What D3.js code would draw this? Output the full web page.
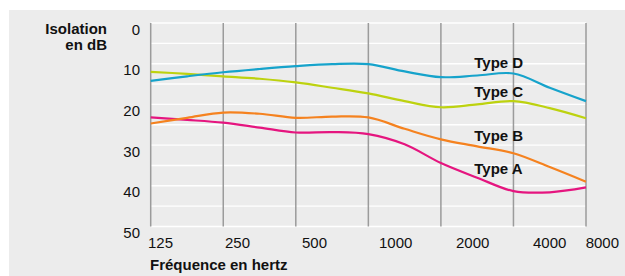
<!DOCTYPE html>
<html lang="fr">
<head>
<meta charset="UTF-8">
<title>Isolation en dB</title>
<script src="https://d3js.org/d3.v7.min.js"></script>
<style>
  body { margin: 0; background: #fff; }
  text { font-family: "Liberation Sans", Arial, Helvetica, sans-serif; fill: #111; }
</style>
</head>
<body>
<svg id="chart" width="625" height="276"></svg>
<script>
// Frequencies (Hz) where values were read: gridlines plus geometric midpoints
const freqs = [125, 177, 250, 354, 500, 707, 1000, 1414, 2000, 2828, 4000, 5657, 8000];

// Isolation in dB for each type
const typeA = [23.2, 23.8, 24.5, 25.7, 26.9, 26.8, 27.3, 29.8, 34.4, 38.0, 41.3, 41.6, 40.4];
const typeB = [24.7, 23.3, 22.0, 22.3, 23.3, 23.0, 23.2, 26.0, 28.6, 30.3, 32.0, 35.4, 39.0];
const typeC = [12.0, 12.5, 13.1, 13.7, 14.6, 15.9, 17.3, 19.2, 20.7, 20.0, 19.2, 20.9, 23.4];
const typeD = [14.2, 13.1, 12.1, 11.3, 10.6, 10.1, 10.1, 11.9, 13.3, 12.9, 12.4, 15.9, 19.2];

const seriesNames = ["Type A", "Type B", "Type C", "Type D"];
const seriesColors = ["#e5157f", "#f5821f", "#bdd20f", "#16a3cb"];

// Axis ticks
const yTicks = [0, 10, 20, 30, 40, 50];
const gridDb = [0, 5, 10, 15, 20, 25, 30, 35, 40, 45, 50];
const gridFreqs = [125, 250, 500, 1000, 2000, 4000, 8000];
const xTickLabels = ["125", "250", "500", "1000", "2000", "4000", "8000"];

const svg = d3.select("#chart");

// grey panel
svg.append("rect")
  .attr("x", 9).attr("y", 10)
  .attr("width", 616).attr("height", 266)
  .attr("fill", "#ececec");

const plot = { left: 150.7, right: 586, top: 23, bottom: 226.5 };

const x = d3.scaleLog().base(2)
  .domain([125, 8000])
  .range([plot.left, plot.right]);

const y = d3.scaleLinear()
  .domain([0, 50])
  .range([plot.top, plot.bottom]);

// horizontal white gridlines
svg.append("g")
  .selectAll("line")
  .data(gridDb)
  .enter()
  .append("line")
  .attr("x1", plot.left).attr("x2", plot.right)
  .attr("y1", d => y(d)).attr("y2", d => y(d))
  .attr("stroke", "#fff")
  .attr("stroke-width", 1.4);

// vertical grey gridlines
svg.append("g")
  .selectAll("line")
  .data(gridFreqs)
  .enter()
  .append("line")
  .attr("x1", d => x(d)).attr("x2", d => x(d))
  .attr("y1", plot.top).attr("y2", plot.bottom)
  .attr("stroke", "#9b9b9b")
  .attr("stroke-width", 1.5);

// y tick labels (sit just below their gridline)
svg.append("g")
  .selectAll("text")
  .data(yTicks)
  .enter()
  .append("text")
  .attr("x", 140)
  .attr("y", d => y(d) + 11.5)
  .attr("text-anchor", "end")
  .attr("font-size", "15px")
  .text(d => d);

// y axis title
const yTitle = svg.append("text")
  .attr("text-anchor", "end")
  .attr("font-size", "15px")
  .attr("font-weight", "bold");
yTitle.append("tspan").attr("x", 107).attr("y", 34.3).text("Isolation");
yTitle.append("tspan").attr("x", 107).attr("y", 50).text("en dB");

// x tick labels, spaced evenly from the left edge of the plot
const labelX = d3.scaleLinear().domain([0, 6]).range([148, 610]);
svg.append("g")
  .selectAll("text")
  .data(xTickLabels)
  .enter()
  .append("text")
  .attr("y", 248.3)
  .attr("font-size", "15px")
  .text(d => d)
  .each(function(d, i) {
    const w = this.getComputedTextLength();
    d3.select(this).attr("x", Math.min(labelX(i), 619 - w));
  });

// x axis title
svg.append("text")
  .attr("x", 150)
  .attr("y", 270)
  .attr("font-size", "15px")
  .attr("font-weight", "bold")
  .text("Fréquence en hertz");

// curves
const seriesValues = [typeA, typeB, typeC, typeD];
const line = d3.line()
  .x(d => x(d.f))
  .y(d => y(d.v))
  .curve(d3.curveCatmullRom.alpha(0.5));

seriesValues.forEach((vals, i) => {
  const pts = freqs.map((f, j) => ({ f: f, v: vals[j] }));
  svg.append("path")
    .datum(pts)
    .attr("d", line)
    .attr("fill", "none")
    .attr("stroke", seriesColors[i])
    .attr("stroke-width", 2.2);
});

// series labels
const labelBaselines = [174, 141, 97.3, 68.3];
seriesNames.forEach((name, i) => {
  svg.append("text")
    .attr("x", 474.3)
    .attr("y", labelBaselines[i])
    .attr("font-size", "15px")
    .attr("font-weight", "bold")
    .text(name);
});
</script>
</body>
</html>
